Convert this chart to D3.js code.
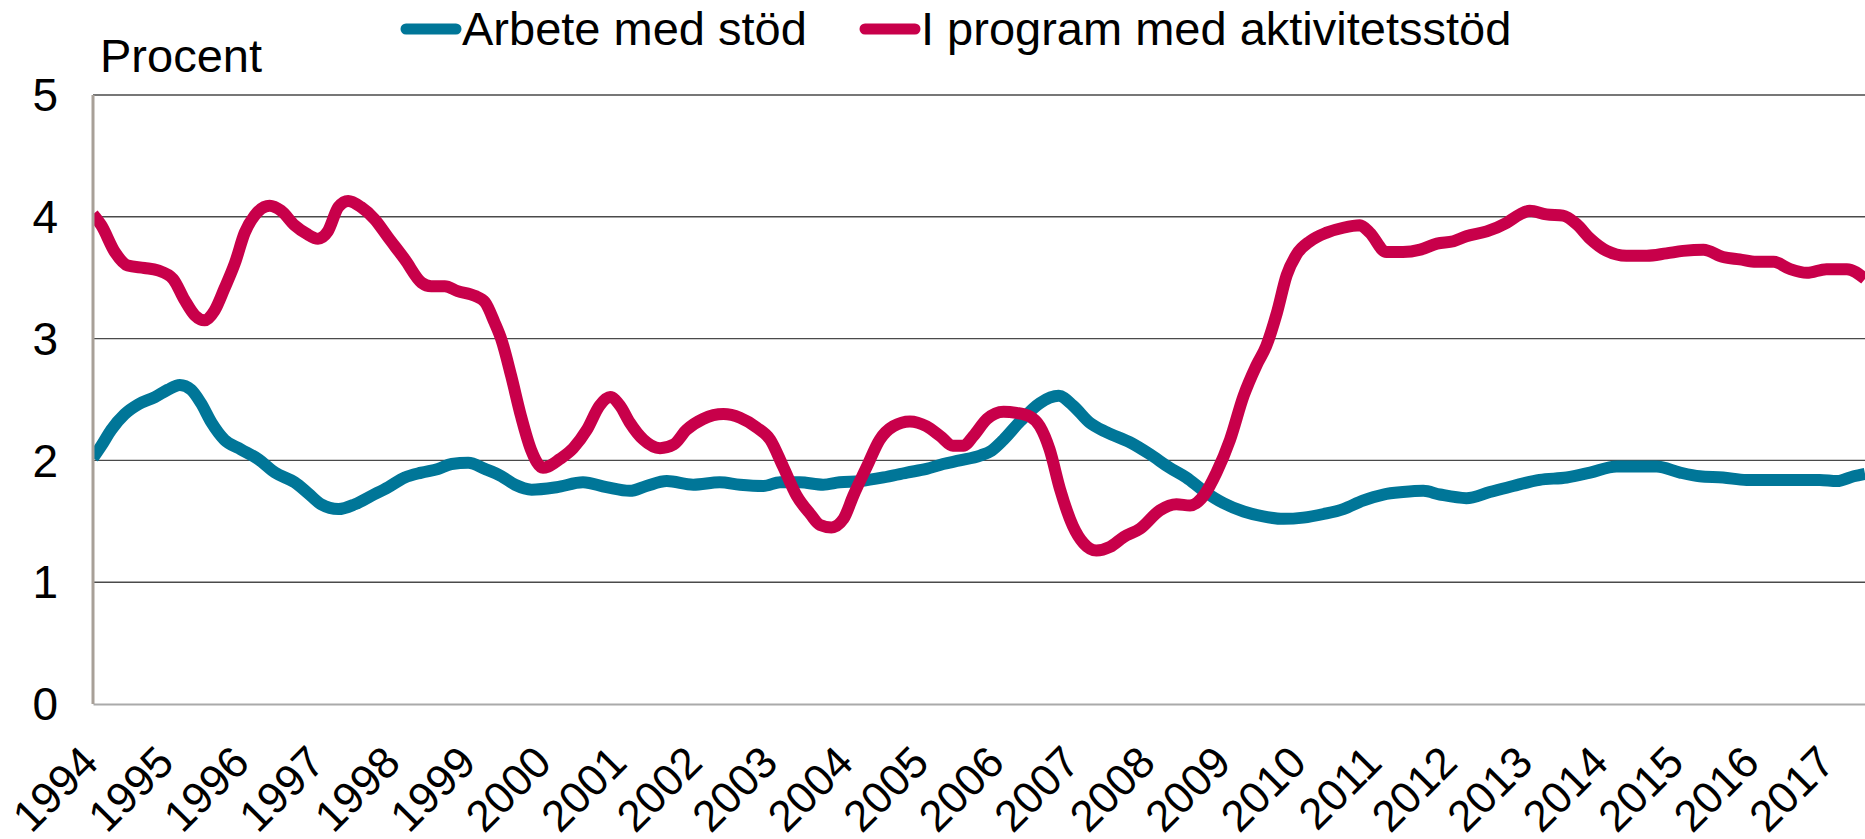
<!DOCTYPE html>
<html>
    <head>
        <meta charset=utf-8>
        <title>Arbete med stöd / I program med aktivitetsstöd</title>
        <style>
body { margin: 0; background: #fff; }
svg { display: block; font-family: "Liberation Sans", Arial, sans-serif; }
        </style>
    </head>
    <body>
        <div id="chart"></div>
        <script src="https://cdn.jsdelivr.net/npm/d3@7"></script>
        <script>
            // values, time as decimal year
            const years = d3.range(1994, 2018)
            const yTicks = [0, 1, 2, 3, 4, 5]
            const seriesNames = ["Arbete med stöd", "I program med aktivitetsstöd"]
            const seriesColors = ["#007698", "#c8004a"]

            const arbeteT = [1994.00, 1994.11, 1994.24, 1994.42, 1994.60, 1994.82, 1994.99, 1995.15, 1995.30, 1995.43,
                1995.57, 1995.74, 1995.96, 1996.19, 1996.41, 1996.67, 1996.85, 1997.02, 1997.25, 1997.47,
                1997.69, 1997.91, 1998.13, 1998.35, 1998.57, 1998.75, 1998.97, 1999.19, 1999.41, 1999.59,
                1999.81, 2000.14, 2000.49, 2000.80, 2001.11, 2001.33, 2001.60, 2001.95, 2002.30, 2002.57,
                2002.88, 2003.10, 2003.36, 2003.67, 2003.89, 2004.16, 2004.47, 2004.78, 2005.04, 2005.26,
                2005.48, 2005.75, 2005.90, 2006.06, 2006.28, 2006.54, 2006.79, 2006.98, 2007.20, 2007.43,
                2007.73, 2008.00, 2008.26, 2008.48, 2008.71, 2008.97, 2009.24, 2009.50, 2009.77, 2010.03,
                2010.30, 2010.56, 2010.82, 2011.09, 2011.35, 2011.62, 2011.84, 2012.19, 2012.50, 2012.81,
                2013.16, 2013.52, 2013.83, 2014.18, 2014.49, 2014.71, 2015.02, 2015.28, 2015.59, 2015.90,
                2016.26, 2016.61, 2016.87, 2017.10, 2017.32, 2017.47]
            const arbeteV = [2.02, 2.12, 2.25, 2.38, 2.46, 2.52, 2.58, 2.62, 2.58, 2.47,
                2.31, 2.17, 2.09, 2.01, 1.90, 1.82, 1.73, 1.64, 1.60, 1.64,
                1.71, 1.78, 1.86, 1.90, 1.93, 1.97, 1.98, 1.93, 1.87, 1.80,
                1.76, 1.78, 1.82, 1.78, 1.75, 1.79, 1.83, 1.80, 1.82, 1.80,
                1.79, 1.82, 1.82, 1.80, 1.82, 1.83, 1.86, 1.90, 1.93, 1.97,
                2.00, 2.04, 2.08, 2.17, 2.32, 2.47, 2.53, 2.45, 2.31, 2.23,
                2.15, 2.05, 1.94, 1.86, 1.75, 1.65, 1.58, 1.54, 1.52, 1.53,
                1.56, 1.60, 1.67, 1.72, 1.74, 1.75, 1.72, 1.69, 1.74, 1.79,
                1.84, 1.86, 1.90, 1.95, 1.95, 1.95, 1.90, 1.87, 1.86, 1.84,
                1.84, 1.84, 1.84, 1.83, 1.87, 1.89]

            const programT = [1994.00, 1994.11, 1994.29, 1994.46, 1994.68, 1994.86, 1995.06, 1995.21, 1995.35, 1995.48,
                1995.61, 1995.74, 1995.88, 1996.01, 1996.14, 1996.34, 1996.49, 1996.67, 1996.83, 1996.98,
                1997.11, 1997.25, 1997.38, 1997.55, 1997.73, 1997.91, 1998.13, 1998.35, 1998.48, 1998.66,
                1998.83, 1999.06, 1999.19, 1999.32, 1999.41, 1999.54, 1999.67, 1999.80, 1999.96, 2000.03,
                2000.18, 2000.36, 2000.54, 2000.71, 2000.85, 2000.98, 2001.11, 2001.29, 2001.51, 2001.69,
                2001.86, 2002.08, 2002.35, 2002.57, 2002.79, 2002.97, 2003.14, 2003.32, 2003.50, 2003.63,
                2003.78, 2003.94, 2004.07, 2004.25, 2004.42, 2004.60, 2004.82, 2005.04, 2005.22, 2005.39,
                2005.53, 2005.66, 2005.84, 2006.06, 2006.23, 2006.41, 2006.54, 2006.67, 2006.81, 2006.98,
                2007.12, 2007.29, 2007.47, 2007.65, 2007.87, 2008.13, 2008.35, 2008.53, 2008.71, 2008.88,
                2009.06, 2009.24, 2009.41, 2009.54, 2009.68, 2009.81, 2009.94, 2010.12, 2010.34, 2010.56,
                2010.78, 2010.91, 2011.13, 2011.35, 2011.58, 2011.80, 2012.02, 2012.19, 2012.46, 2012.72,
                2012.90, 2013.03, 2013.25, 2013.47, 2013.65, 2013.83, 2014.05, 2014.31, 2014.58, 2014.84,
                2015.06, 2015.33, 2015.59, 2015.81, 2016.03, 2016.26, 2016.48, 2016.70, 2016.96, 2017.23,
                2017.47]
            const programV = [4.02, 3.93, 3.71, 3.60, 3.58, 3.56, 3.49, 3.32, 3.19, 3.15,
                3.23, 3.41, 3.62, 3.87, 4.01, 4.09, 4.05, 3.93, 3.86, 3.82,
                3.88, 4.08, 4.13, 4.08, 3.98, 3.83, 3.65, 3.46, 3.43, 3.43,
                3.39, 3.35, 3.30, 3.13, 2.99, 2.69, 2.36, 2.09, 1.94, 1.95,
                2.01, 2.10, 2.25, 2.45, 2.52, 2.45, 2.31, 2.17, 2.10, 2.13,
                2.25, 2.34, 2.38, 2.35, 2.27, 2.17, 1.95, 1.71, 1.56, 1.47,
                1.45, 1.52, 1.71, 1.95, 2.17, 2.28, 2.32, 2.28, 2.20, 2.12,
                2.12, 2.20, 2.34, 2.40, 2.39, 2.36, 2.28, 2.09, 1.76, 1.46,
                1.32, 1.26, 1.29, 1.37, 1.44, 1.59, 1.64, 1.63, 1.71, 1.90,
                2.17, 2.53, 2.78, 2.94, 3.21, 3.52, 3.69, 3.80, 3.87, 3.91,
                3.93, 3.87, 3.71, 3.71, 3.73, 3.78, 3.80, 3.84, 3.88, 3.95,
                4.02, 4.05, 4.02, 4.01, 3.94, 3.82, 3.72, 3.68, 3.68, 3.70,
                3.72, 3.73, 3.67, 3.65, 3.63, 3.63, 3.57, 3.54, 3.57, 3.57,
                3.49]

            const width = 1865
            const height = 839
            const margin = {top: 95, right: 0, bottom: 135, left: 93}

            const svg = d3.select("#chart").append("svg")
                .attr("width", width)
                .attr("height", height)

            const x = d3.scaleLinear()
                .domain([1994, d3.max(programT)])
                .range([margin.left, width - margin.right])
            const y = d3.scaleLinear()
                .domain([0, 5])
                .range([height - margin.bottom, margin.top])

            // gridlines
            svg.append("g")
                .selectAll("line")
                .data(yTicks.filter(d => d > 0))
                .enter()
                .append("line")
                .attr("x1", margin.left)
                .attr("x2", width)
                .attr("y1", d => y(d))
                .attr("y2", d => y(d))
                .style("stroke", "#4a4a4a")
                .style("stroke-width", "1.4px")

            // y labels
            svg.append("g")
                .selectAll("text")
                .data(yTicks)
                .enter()
                .append("text")
                .attr("x", 58)
                .attr("y", d => y(d))
                .attr("dy", "0.35em")
                .attr("text-anchor", "end")
                .style("font-size", "46px")
                .text(d => d)

            svg.append("text")
                .attr("x", 100)
                .attr("y", 72)
                .style("font-size", "47px")
                .text("Procent")

            // x axis
            const xAxis = svg.append("g")
                .attr("transform", `translate(0,${y(0)})`)
                .call(d3.axisBottom(x).tickValues(years).tickFormat(d3.format("d")).tickSize(0))
            xAxis.select(".domain")
                .attr("stroke", "#aaa")
                .attr("stroke-width", 2)
            xAxis.selectAll("text")
                .attr("y", 0)
                .attr("dy", 0)
                .attr("text-anchor", "end")
                .attr("transform", "translate(7,61) rotate(-45)")
                .style("font-size", "44px")
                .style("font-family", "\"Liberation Sans\", Arial, sans-serif")
                .attr("fill", "#000")

            // lines
            svg.append("clipPath").attr("id", "plotclip")
                .append("rect")
                .attr("x", margin.left)
                .attr("y", 0)
                .attr("width", width - margin.left)
                .attr("height", height)

            const line = d3.line()
                .x(d => x(d[0]))
                .y(d => y(d[1]))
                .curve(d3.curveMonotoneX)

            const series = [
                d3.zip(arbeteT, arbeteV),
                d3.zip(programT, programV)
            ]

            svg.append("g")
                .attr("clip-path", "url(#plotclip)")
                .selectAll("path")
                .data(series)
                .enter()
                .append("path")
                .attr("d", line)
                .style("fill", "none")
                .style("stroke", (d, i) => seriesColors[i])
                .style("stroke-width", "12px")
                .style("stroke-linejoin", "round")

            // y axis line
            svg.append("line")
                .attr("x1", margin.left)
                .attr("x2", margin.left)
                .attr("y1", y(5))
                .attr("y2", y(0))
                .style("stroke", "#a8a098")
                .style("stroke-width", "3px")

            // legend
            const legendX = [401, 860]
            const legend = svg.append("g")
                .selectAll("g")
                .data(seriesNames)
                .enter()
                .append("g")
                .attr("transform", (d, i) => `translate(${legendX[i]},0)`)
            legend.append("line")
                .attr("x1", 5)
                .attr("x2", 55)
                .attr("y1", 29)
                .attr("y2", 29)
                .style("stroke", (d, i) => seriesColors[i])
                .style("stroke-width", "11px")
                .style("stroke-linecap", "round")
            legend.append("text")
                .attr("x", 61)
                .attr("y", 45)
                .style("font-size", "47px")
                .text(d => d)
        </script>
    </body>
</html>
